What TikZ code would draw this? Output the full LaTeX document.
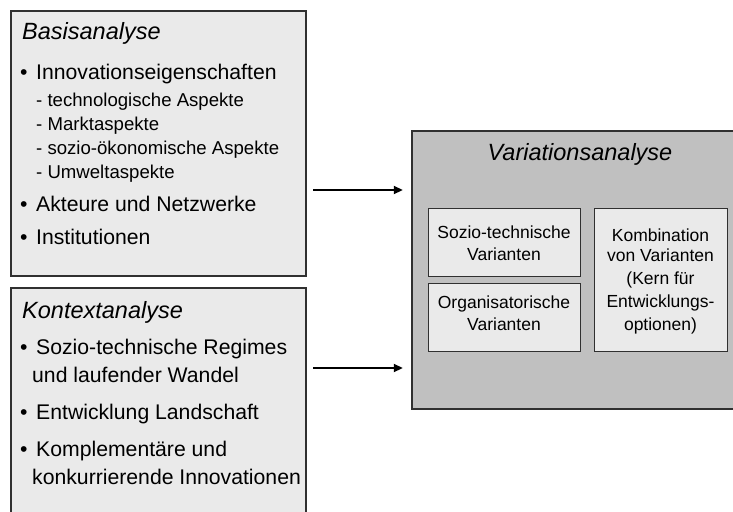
\documentclass[tikz,border=0pt]{standalone}
\usepackage{fontspec}
\setmainfont{Liberation Sans}
\usetikzlibrary{arrows.meta}

\definecolor{panel}{HTML}{EAEAEA}
\definecolor{outer}{HTML}{C0C0C0}
\definecolor{edge}{HTML}{303030}

\tikzset{
  panelbox/.style={draw=edge, line width=1.2pt, fill=panel},
  outerbox/.style={draw=edge, line width=1.3pt, fill=outer},
  area/.style={inner sep=0pt},
  title/.style={anchor=base west, inner sep=0pt, font=\fontsize{23.5}{27}\selectfont\itshape},
  item/.style={anchor=base west, inner sep=0pt, font=\fontsize{21.2}{25}\selectfont},
  subitem/.style={anchor=base west, inner sep=0pt, font=\fontsize{18.6}{22}\selectfont},
  inner/.style={anchor=base, inner sep=0pt, font=\fontsize{17.5}{20}\selectfont},
  arr/.style={line width=1.8pt, -{Triangle[length=9pt,width=8pt]}}
}

\begin{document}
\begin{tikzpicture}[x=1pt,y=-1pt]
  \useasboundingbox (0,0) rectangle (733,511);

  % left panels
  \draw[panelbox] (11,11) rectangle (306,276);
  \node[area, minimum width=295pt, minimum height=265pt] (basis) at (158.5,143.5) {};
  \draw[panelbox] (11,288) rectangle (306,530);
  \node[area, minimum width=295pt, minimum height=242pt] (kontext) at (158.5,409) {};

  % right panel with inner boxes
  \draw[outerbox] (412,131) rectangle (740,409);
  \node[area, minimum width=328pt, minimum height=278pt] (var) at (576,270) {};
  \draw[panelbox, line width=1pt] (428,208) rectangle (580,276);
  \draw[panelbox, line width=1pt] (428,283) rectangle (580,351);
  \draw[panelbox, line width=1pt] (594,208) rectangle (727,351);

  % Basisanalyse
  \node[title] (t1) at (22,40) {Basisanalyse};
  \node[item] (b1) at (20,79) {•};
  \node[item] (i1) at (36,79) {Innovationseigenschaften};
  \node[subitem] (s1) at (36,106) {- technologische Aspekte};
  \node[subitem] (s2) at (36,130) {- Marktaspekte};
  \node[subitem] (s3) at (36,154) {- sozio-ökonomische Aspekte};
  \node[subitem] (s4) at (36,178) {- Umweltaspekte};
  \node[item] (b2) at (20,211) {•};
  \node[item] (i2) at (36,211) {Akteure und Netzwerke};
  \node[item] (b3) at (20,244) {•};
  \node[item] (i3) at (36,244) {Institutionen};

  % Kontextanalyse
  \node[title] (t2) at (22,318) {Kontextanalyse};
  \node[item] (b4) at (20,354) {•};
  \node[item] (k1) at (36,354) {Sozio-technische Regimes};
  \node[item] (k1b) at (32,382) {und laufender Wandel};
  \node[item] (b5) at (20,419) {•};
  \node[item] (k2) at (36,419) {Entwicklung Landschaft};
  \node[item] (b6) at (20,456) {•};
  \node[item] (k3) at (36,456) {Komplementäre und};
  \node[item] (k3b) at (32,484) {konkurrierende Innovationen};

  % Variationsanalyse
  \node[title, anchor=base] (t3) at (580,160) {Variationsanalyse};
  \node[inner] (v1) at (504,238) {Sozio-technische};
  \node[inner] (v1b) at (504,260) {Varianten};
  \node[inner] (v2) at (504,308) {Organisatorische};
  \node[inner] (v2b) at (504,330) {Varianten};
  \node[inner] (v3) at (660.5,241) {Kombination};
  \node[inner] (v3b) at (660.5,261) {von Varianten};
  \node[inner] (v3c) at (660.5,284) {(Kern für};
  \node[inner] (v3d) at (660.5,307) {Entwicklungs-};
  \node[inner] (v3e) at (660.5,330) {optionen)};

  % connectors
  \draw[arr, shorten <=7pt, shorten >=9pt] (basis.east |- 0,190) -- (var.west |- 0,190);
  \draw[arr, shorten <=7pt, shorten >=9pt] (kontext.east |- 0,368) -- (var.west |- 0,368);
\end{tikzpicture}
\end{document}
